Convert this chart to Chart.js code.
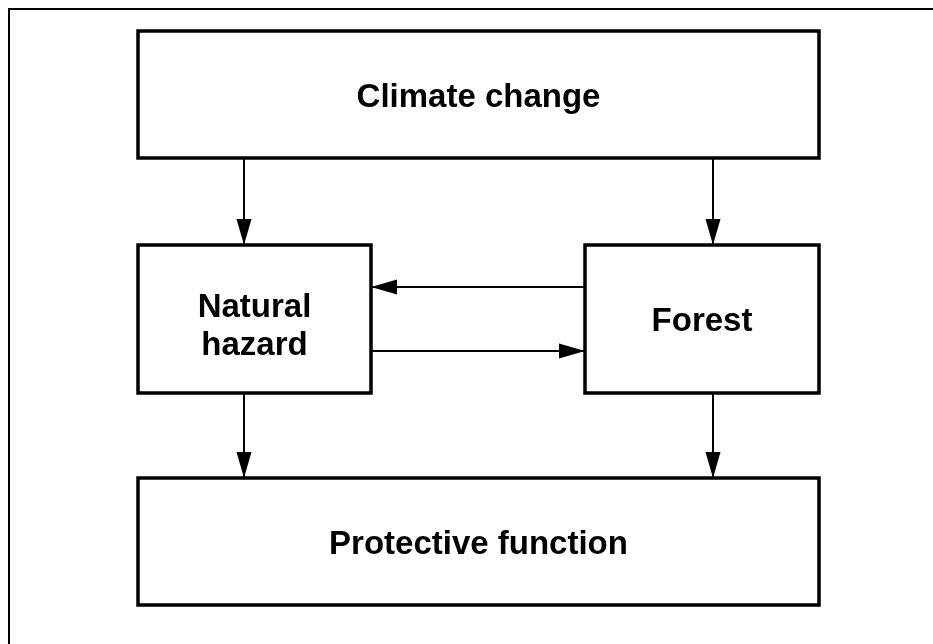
<!DOCTYPE html>
<html>
<head>
<meta charset="utf-8">
<script src="https://cdn.jsdelivr.net/npm/chart.js@4"></script>
<style>
  html, body { margin: 0; padding: 0; background: #fff; }
  #wrap { width: 933px; height: 644px; }
</style>
</head>
<body>
<div id="wrap"><canvas id="myChart" width="933" height="644"></canvas></div>
<script>
// diagram content (coordinates in the chart's own units)
const boxLabels = [["Climate change"], ["Natural", "hazard"], ["Forest"], ["Protective function"]];
const boxLeft = [138, 138, 585, 138];
const boxRight = [819, 371, 819, 819];
const boxTop = [31, 245, 245, 478];
const boxBottom = [158, 393, 393, 605];

const arrowFromX = [244, 713, 585, 371, 244, 713];
const arrowFromY = [158, 158, 287, 351, 393, 393];
const arrowToX = [244, 713, 371, 585, 244, 713];
const arrowToY = [245, 245, 287, 351, 478, 478];

const frameLeft = 9, frameTop = 9, frameRight = 960, frameBottom = 670;

const canvas = document.getElementById("myChart");
const ctx = canvas.getContext("2d");

const datasets = [];

// outer frame
datasets.push({
  data: [
    { x: frameLeft, y: frameBottom }, { x: frameLeft, y: frameTop },
    { x: frameRight, y: frameTop }
  ],
  borderColor: "#000", borderWidth: 2, borderCapStyle: "square"
});

// boxes
boxLabels.forEach((lbl, i) => {
  datasets.push({
    data: [
      { x: boxLeft[i], y: boxTop[i] }, { x: boxRight[i], y: boxTop[i] },
      { x: boxRight[i], y: boxBottom[i] }, { x: boxLeft[i], y: boxBottom[i] },
      { x: boxLeft[i], y: boxTop[i] }, { x: boxRight[i], y: boxTop[i] }
    ],
    borderColor: "#000", borderWidth: 3.5
  });
});

// arrow shafts
arrowFromX.forEach((x, i) => {
  datasets.push({
    data: [{ x: x, y: arrowFromY[i] }, { x: arrowToX[i], y: arrowToY[i] }],
    borderColor: "#000", borderWidth: 2
  });
});

const diagramPlugin = {
  id: "diagram",
  afterDatasetsDraw(chart) {
    const c = chart.ctx;
    const sx = chart.scales.x, sy = chart.scales.y;
    c.save();
    // arrow heads
    c.fillStyle = "#000";
    arrowFromX.forEach((x, i) => {
      const x0 = sx.getPixelForValue(x), y0 = sy.getPixelForValue(arrowFromY[i]);
      const x1 = sx.getPixelForValue(arrowToX[i]), y1 = sy.getPixelForValue(arrowToY[i]);
      const ang = Math.atan2(y1 - y0, x1 - x0);
      const len = 26, half = 7.5;
      c.beginPath();
      c.moveTo(x1, y1);
      c.lineTo(x1 - len * Math.cos(ang) + half * Math.sin(ang), y1 - len * Math.sin(ang) - half * Math.cos(ang));
      c.lineTo(x1 - len * Math.cos(ang) - half * Math.sin(ang), y1 - len * Math.sin(ang) + half * Math.cos(ang));
      c.closePath();
      c.fill();
    });
    // labels
    c.font = "bold 33px 'Liberation Sans', Arial, sans-serif";
    c.textAlign = "center";
    c.textBaseline = "alphabetic";
    boxLabels.forEach((lines, i) => {
      const cx = sx.getPixelForValue((boxLeft[i] + boxRight[i]) / 2);
      const cy = sy.getPixelForValue((boxTop[i] + boxBottom[i]) / 2);
      const n = lines.length, lh = 38;
      lines.forEach((t, j) => {
        c.fillText(t, cx, cy + 12 + (n - 1) * 5 + (j - (n - 1) / 2) * lh);
      });
    });
    c.restore();
  }
};

const myChart = new Chart(ctx, {
  type: "scatter",
  data: { datasets: datasets },
  options: {
    responsive: false,
    animation: false,
    layout: { padding: 0 },
    elements: {
      line: { borderJoinStyle: "miter", tension: 0, fill: false },
      point: { radius: 0, hoverRadius: 0 }
    },
    datasets: { scatter: { showLine: true } },
    scales: {
      x: { type: "linear", min: 0, max: 933, display: false },
      y: { type: "linear", min: 0, max: 644, reverse: true, display: false }
    },
    plugins: { legend: { display: false }, tooltip: { enabled: false } }
  },
  plugins: [diagramPlugin]
});
</script>
</body>
</html>
